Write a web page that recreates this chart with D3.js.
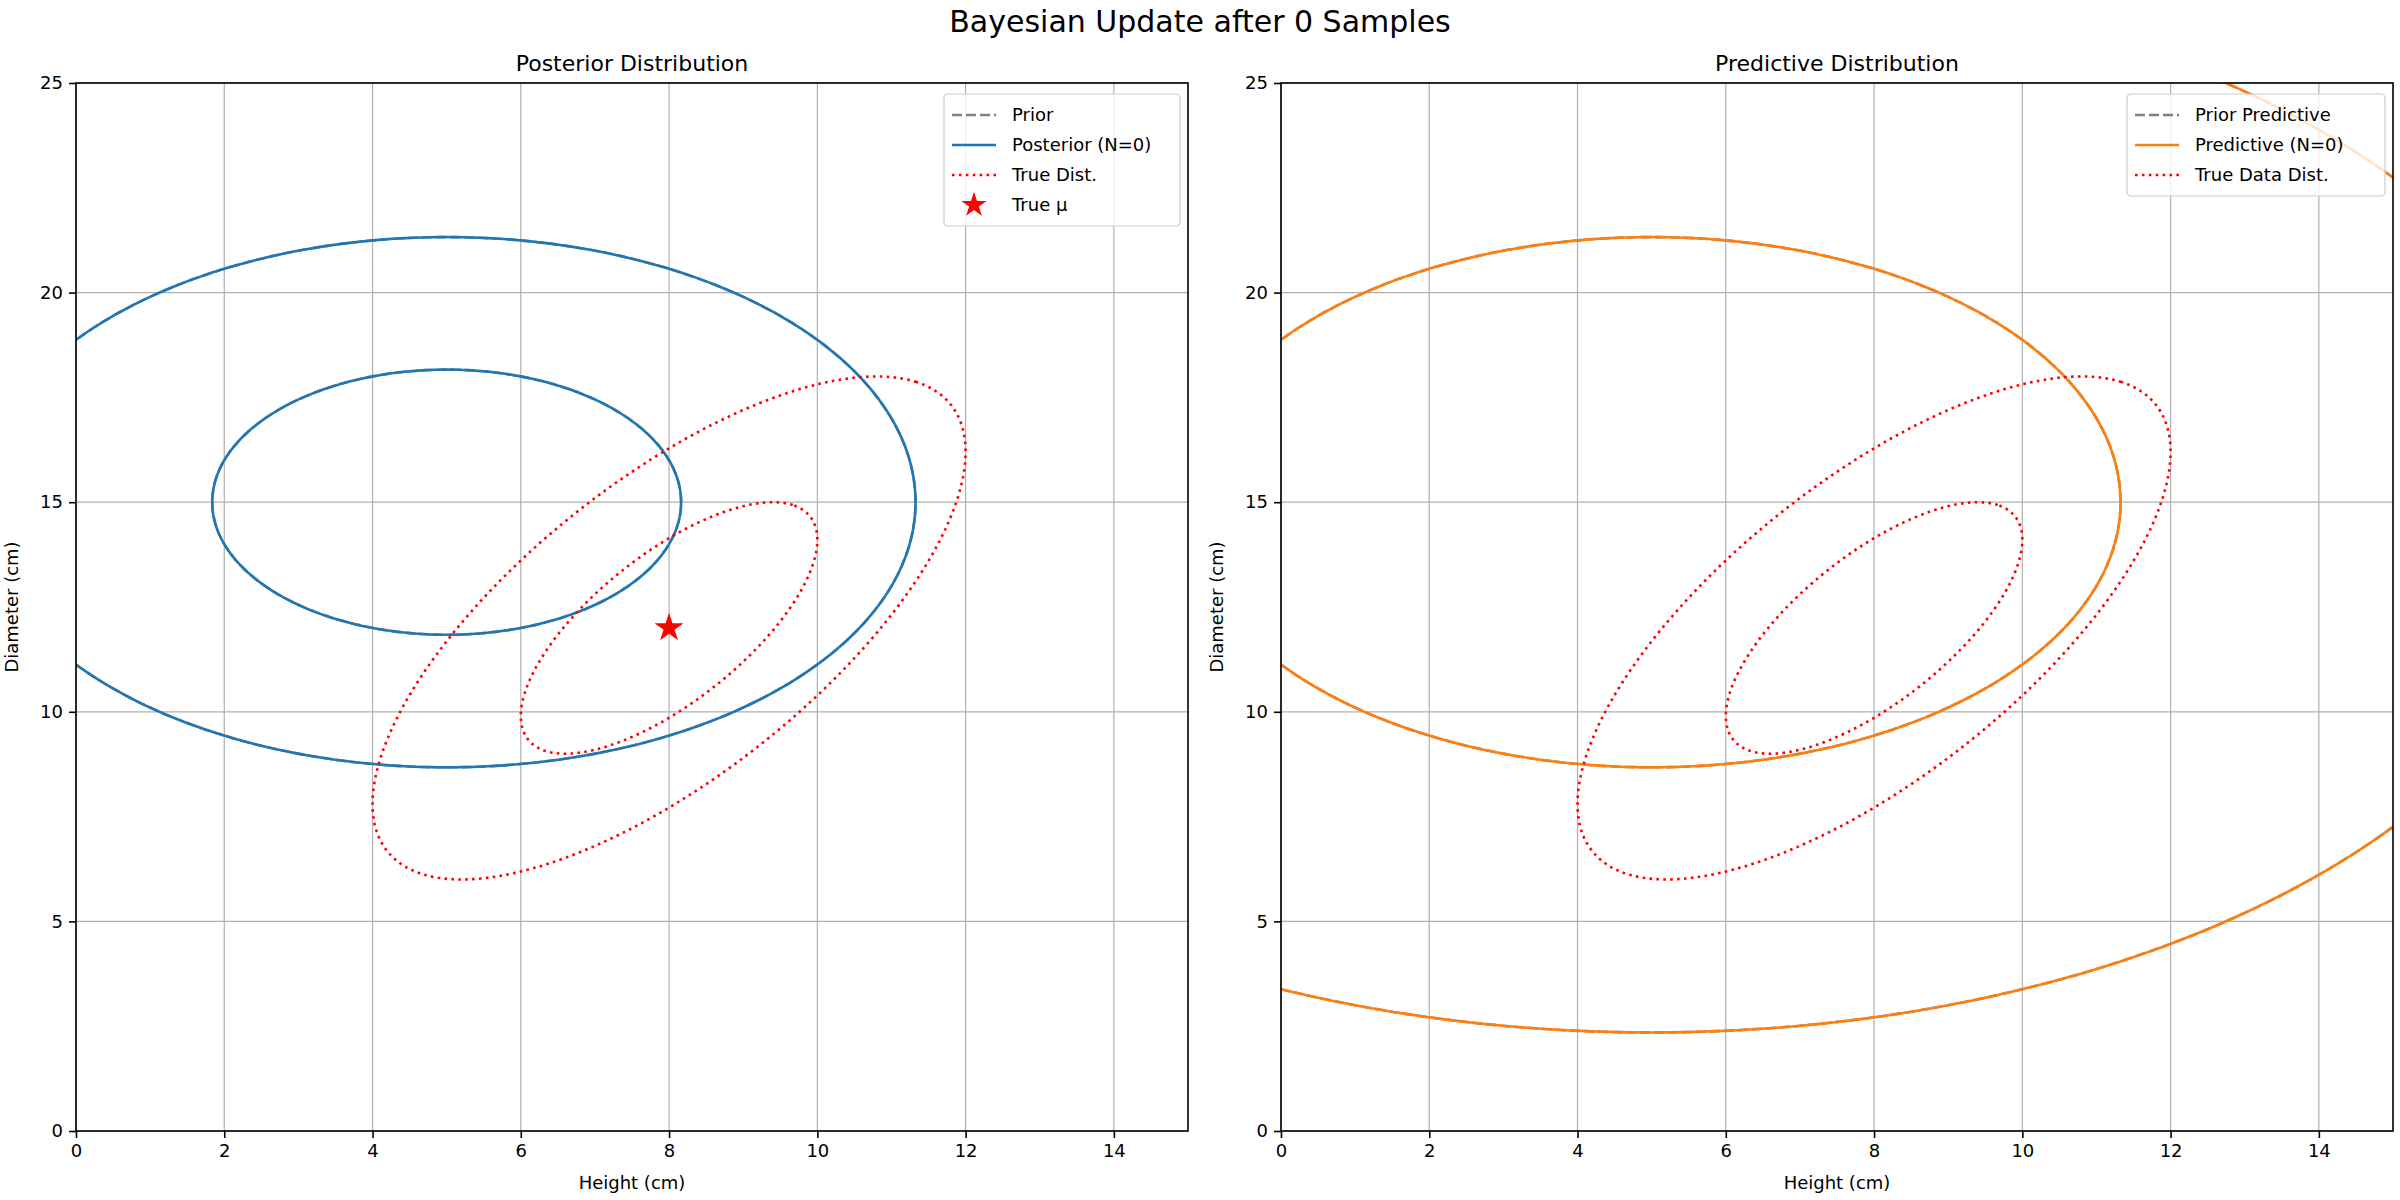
<!DOCTYPE html>
<html><head><meta charset="utf-8">
<script src="https://cdn.jsdelivr.net/npm/d3@7"></script>
<style>body{margin:0;background:#fff;font-family:"DejaVu Sans",sans-serif;}</style>
</head><body>
<svg id="chart" width="2400" height="1200"></svg>
<script>
// distribution params (mean, covariance)
var priorMean = [5, 15], priorCov = [[10, 0], [0, 10]];
var postMean = [5, 15], postCov = [[10, 0], [0, 10]];
var predMean = [5, 15], predCov = [[40, 0], [0, 40]];
var truthMean = [8, 12], truthCov = [[4, 4.2], [4.2, 9]];
var sigmaLevels = [1, 2];
var xTicks = [0, 2, 4, 6, 8, 10, 12, 14];
var yTicks = [0, 5, 10, 15, 20, 25];

var svg = d3.select("#chart");
var W = 1112, H = 1048;

// ellipse points from mean + cov
function ellipse(mean, cov, k) {
    var a = cov[0][0], b = cov[0][1], d = cov[1][1];
    var tr = (a + d) / 2, det = Math.sqrt(((a - d) / 2) ** 2 + b * b);
    var l1 = tr + det, l2 = tr - det;
    var th = b === 0 ? (a >= d ? 0 : Math.PI / 2) : Math.atan2(l1 - a, b);
    var pts = d3.range(0, 361).map(i => {
        var t = i * Math.PI / 180;
        var u = k * Math.sqrt(l1) * Math.cos(t), v = k * Math.sqrt(l2) * Math.sin(t);
        return [mean[0] + u * Math.cos(th) - v * Math.sin(th), mean[1] + u * Math.sin(th) + v * Math.cos(th)];
    });
    return pts;
}

function panel(left, title, curves, legendItems, star) {
    var g = svg.append("g").attr("transform", `translate(${left},83)`);
    var x = d3.scaleLinear().domain([0, 15]).range([0, W]);
    var y = d3.scaleLinear().domain([0, 25]).range([H, 0]);
    g.append("defs").append("clipPath").attr("id", "c" + left)
        .append("rect").attr("width", W).attr("height", H);

    // grid
    g.selectAll(".gx").data(xTicks).enter().append("line")
        .attr("x1", d => x(d)).attr("x2", d => x(d)).attr("y1", 0).attr("y2", H)
        .attr("stroke", "#b0b0b0").attr("stroke-width", 1.2);
    g.selectAll(".gy").data(yTicks).enter().append("line")
        .attr("y1", d => y(d)).attr("y2", d => y(d)).attr("x1", 0).attr("x2", W)
        .attr("stroke", "#b0b0b0").attr("stroke-width", 1.2);

    var line = d3.line().x(d => x(d[0])).y(d => y(d[1]));
    var cg = g.append("g").attr("clip-path", `url(#c${left})`);
    curves.forEach(c => {
        sigmaLevels.forEach(k => {
            cg.append("path").attr("d", line(ellipse(c.mean, c.cov, k)))
                .attr("fill", "none").attr("stroke", c.color).attr("stroke-width", 2.6)
                .attr("stroke-dasharray", c.dash || null).attr("stroke-linecap", c.cap || "butt");
        });
    });
    if (star) {
        cg.append("path").attr("d", d3.symbol(d3.symbolStar, 260)())
            .attr("transform", `translate(${x(star[0])},${y(star[1])})`).attr("fill", "red");
    }

    var xa = g.append("g").attr("transform", `translate(0,${H})`)
        .call(d3.axisBottom(x).tickValues(xTicks).tickSize(7).tickPadding(6));
    var ya = g.append("g").call(d3.axisLeft(y).tickValues(yTicks).tickSize(7).tickPadding(6));
    [xa, ya].forEach(a => {
        a.selectAll("text").attr("font-size", 18).attr("font-family", "DejaVu Sans").attr("fill", "#000");
        a.selectAll("line").attr("stroke", "#000").attr("stroke-width", 1.6);
        a.select(".domain").remove();
    });
    g.append("rect").attr("width", W).attr("height", H).attr("fill", "none")
        .attr("stroke", "#000").attr("stroke-width", 1.6);

    g.append("text").attr("x", W / 2).attr("y", -12).attr("text-anchor", "middle")
        .attr("font-size", 22).text(title);
    g.append("text").attr("x", W / 2).attr("y", H + 58).attr("text-anchor", "middle")
        .attr("font-size", 18).text("Height (cm)");
    g.append("text").attr("transform", `translate(-58,${H / 2}) rotate(-90)`)
        .attr("text-anchor", "middle").attr("font-size", 18).text("Diameter (cm)");

    // legend
    var lw = legendItems.w, lh = legendItems.items.length * 30 + 12;
    var lg = g.append("g").attr("transform", `translate(${W - lw - 8},11)`);
    lg.append("rect").attr("width", lw).attr("height", lh).attr("rx", 4)
        .attr("fill", "rgba(255,255,255,0.8)").attr("stroke", "#ccc").attr("stroke-width", 1.2);
    legendItems.items.forEach((it, i) => {
        var yy = 21 + i * 30;
        if (it.star) {
            lg.append("path").attr("d", d3.symbol(d3.symbolStar, 200)())
                .attr("transform", `translate(30,${yy})`).attr("fill", "red");
        } else {
            lg.append("line").attr("x1", 8).attr("x2", 52).attr("y1", yy).attr("y2", yy)
                .attr("stroke", it.color).attr("stroke-width", 2.6).attr("stroke-dasharray", it.dash || null);
        }
        lg.append("text").attr("x", 68).attr("y", yy + 6).attr("font-size", 18).text(it.label);
    });
}

panel(76, "Posterior Distribution", [
    { mean: priorMean, cov: priorCov, color: "gray", dash: "10,4" },
    { mean: postMean, cov: postCov, color: "#1f77b4" },
    { mean: truthMean, cov: truthCov, color: "red", dash: "2.6,4.3" }
], { w: 236, items: [
    { label: "Prior", color: "gray", dash: "10,4" },
    { label: "Posterior (N=0)", color: "#1f77b4" },
    { label: "True Dist.", color: "red", dash: "2.6,4.3" },
    { label: "True μ", star: true }
] }, truthMean);

panel(1281, "Predictive Distribution", [
    { mean: priorMean, cov: predCov, color: "gray", dash: "10,4" },
    { mean: predMean, cov: predCov, color: "#ff7f0e" },
    { mean: truthMean, cov: truthCov, color: "red", dash: "2.6,4.3" }
], { w: 258, items: [
    { label: "Prior Predictive", color: "gray", dash: "10,4" },
    { label: "Predictive (N=0)", color: "#ff7f0e" },
    { label: "True Data Dist.", color: "red", dash: "2.6,4.3" }
] }, null);

svg.append("text").attr("x", 1200).attr("y", 32).attr("text-anchor", "middle")
    .attr("font-size", 30).text("Bayesian Update after 0 Samples");
</script>
</body></html>
